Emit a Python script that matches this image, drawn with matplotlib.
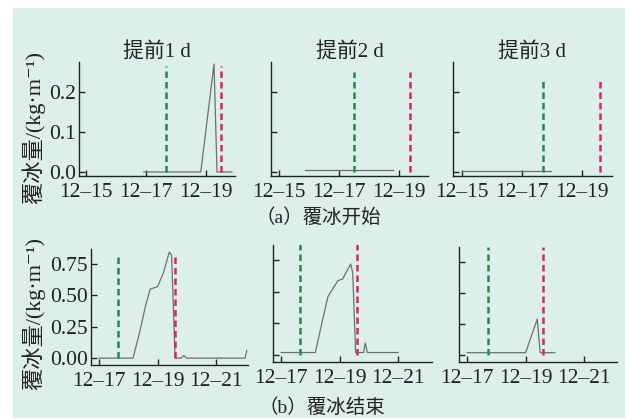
import matplotlib.pyplot as plt
from matplotlib.patches import Rectangle

plt.rcParams['font.family'] = ['Liberation Serif', 'Noto Sans CJK SC', 'DejaVu Serif']

# x = day of December
titles = ['提前1 d', '提前2 d', '提前3 d']

# (a) icing start
start_x = [
    [16.93, 18.83, 19.27, 19.37, 19.87],
    [15.87, 18.80],
    [15.00, 17.95],
]
start_y = [
    [0.0, 0.0, 0.27, 0.0, 0.0],
    [0.005, 0.005],
    [0.003, 0.003],
]
start_green = [17.67, 17.50, 17.70]
start_red = [19.50, 19.37, 19.60]
start_vtop = [0.265, 0.25, 0.235]

# (b) icing end
end_x = [
    [17.0, 18.16, 18.40, 18.60, 18.75, 19.00, 19.20, 19.40, 19.48, 19.60, 19.80, 19.90, 20.00, 22.00, 22.05],
    [17.0, 18.17, 18.40, 18.60, 18.70, 18.95, 19.10, 19.38, 19.45, 19.55, 19.82, 19.88, 19.95, 21.0],
    [17.0, 19.00, 19.40, 19.50, 20.00],
]
end_y = [
    [0.0, 0.0, 0.22, 0.43, 0.55, 0.57, 0.68, 0.845, 0.82, 0.0, 0.0, 0.02, 0.0, 0.0, 0.06],
    [0.02, 0.02, 0.26, 0.46, 0.50, 0.59, 0.60, 0.72, 0.65, 0.02, 0.02, 0.095, 0.02, 0.02],
    [0.02, 0.02, 0.29, 0.02, 0.02],
]
end_green = [17.65, 17.65, 17.72]
end_red = [19.60, 19.60, 19.60]
end_vtop = [0.84, 0.88, 0.87]

bg = '#ddefea'
line_c = '#6e6e6e'
green_c = '#1f8a4f'
red_c = '#d42a55'
txt_c = '#222222'
W, H = 625, 419

fig = plt.figure(figsize=(W / 100, H / 100), dpi=100, facecolor='white')
fig.patches.append(Rectangle((13 / W, 2 / H), 1 - 13 / W, 1 - 10 / H,
                             transform=fig.transFigure, color=bg, zorder=-1))

# pixel boxes: left, right, top, bottom
top_boxes = [(79, 235, 62, 176), (271, 428, 62, 176), (453, 612, 62, 176)]
bot_boxes = [(91, 248, 249, 365), (273, 432, 245, 362), (459, 617, 247, 362)]


def make_ax(box):
    l, r, t, b = box
    ax = fig.add_axes([l / W, 1 - b / H, (r - l) / W, (b - t) / H])
    ax.set_facecolor('none')
    for s in ['top', 'right']:
        ax.spines[s].set_visible(False)
    for s in ['left', 'bottom']:
        ax.spines[s].set_color(txt_c)
        ax.spines[s].set_linewidth(1.0)
    ax.tick_params(direction='in', length=4, width=1, labelsize=15.5, colors=txt_c)
    ax.tick_params(axis='x', pad=5)
    ax.tick_params(axis='y', pad=2)
    return ax


def draw(ax, x, y, g, r, vtop):
    ax.plot(x, y, color=line_c, lw=0.9)
    ax.vlines(g, 0, vtop, colors=green_c, linestyles=(0, (2.6, 1.6)), lw=1.8)
    ax.vlines(r, 0, vtop, colors=red_c, linestyles=(0, (2.6, 1.6)), lw=1.8)


for i, box in enumerate(top_boxes):
    ax = make_ax(box)
    draw(ax, start_x[i], start_y[i], start_green[i], start_red[i], start_vtop[i])
    lo = [14.77, 14.73, 14.70][i]
    ax.set_xlim(lo, lo + (box[1] - box[0]) / 30.0)
    ax.set_ylim(-0.01, 0.275)
    ax.set_xticks([15, 17, 19])
    ax.set_xticklabels(['12–15', '12–17', '12–19'])
    ax.set_yticks([0.0, 0.1, 0.2])
    if i == 0:
        ax.set_yticklabels(['0.0', '0.1', '0.2'])
    else:
        ax.set_yticklabels([])
    ax.set_title(titles[i], fontsize=15, pad=4, color=txt_c)

for i, box in enumerate(bot_boxes):
    ax = make_ax(box)
    draw(ax, end_x[i], end_y[i], end_green[i], end_red[i], end_vtop[i])
    ax.set_xlim(16.72, 16.72 + (box[1] - box[0]) / 29.2)
    ax.set_ylim(-0.055, 0.87)
    ax.set_xticks([17, 19, 21])
    ax.set_xticklabels(['12–17', '12–19', '12–21'])
    ax.set_yticks([0.0, 0.25, 0.5, 0.75])
    if i == 0:
        ax.set_yticklabels(['0.00', '0.25', '0.50', '0.75'])
    else:
        ax.set_yticklabels([])

ylab = '覆冰量/(kg·m⁻¹)'
fig.text(33 / W, 1 - 127 / H, ylab, rotation=90, fontsize=16, ha='center', va='center', color=txt_c)
fig.text(33 / W, 1 - 313 / H, ylab, rotation=90, fontsize=16, ha='center', va='center', color=txt_c)
fig.text(318 / W, 1 - 218 / H, '（a）覆冰开始', fontsize=14, ha='center', va='center', color=txt_c)
fig.text(322 / W, 1 - 408 / H, '（b）覆冰结束', fontsize=14, ha='center', va='center', color=txt_c)

fig.savefig('out.png', dpi=100, facecolor=fig.get_facecolor())
